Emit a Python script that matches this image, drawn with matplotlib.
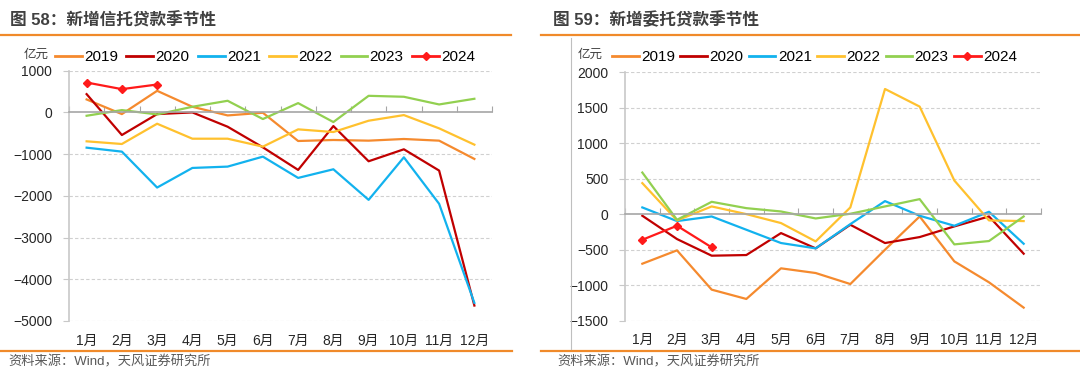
import matplotlib
matplotlib.use('Agg')
from matplotlib import pyplot as plt
from matplotlib.lines import Line2D
import numpy as np

plt.rcParams['font.family'] = ['Liberation Sans', 'Noto Sans CJK SC', 'DejaVu Sans']
plt.rcParams['axes.unicode_minus'] = True

months = ['1月', '2月', '3月', '4月', '5月', '6月', '7月', '8月', '9月', '10月', '11月', '12月']
years = ['2019', '2020', '2021', '2022', '2023', '2024']
colors = ['#F58A2E', '#C00000', '#12B2EE', '#FFC12E', '#92D050', '#FF1A1A']

# 新增信托贷款 (亿元)
trust_2019 = [311, -40, 518, 135, -72, -8, -685, -661, -677, -637, -677, -1115]
trust_2020 = [438, -542, -40, 0, -343, -837, -1378, -327, -1171, -884, -1394, -4630]
trust_2021 = [-845, -940, -1801, -1331, -1299, -1060, -1570, -1363, -2096, -1076, -2191, -4566]
trust_2022 = [-693, -757, -271, -630, -630, -821, -406, -470, -199, -64, -382, -773]
trust_2023 = [-80, 56, -48, 135, 279, -159, 223, -231, 398, 375, 191, 327]
trust_2024 = [717, 558, 669]

# 新增委托贷款 (亿元)
entr_2019 = [-698, -510, -1063, -1194, -763, -829, -984, -501, -33, -665, -960, -1316]
entr_2020 = [-23, -351, -585, -576, -267, -482, -150, -407, -323, -173, -33, -557]
entr_2021 = [94, -98, -33, -220, -407, -482, -141, 183, -23, -164, 33, -417]
entr_2022 = [436, -89, 108, 0, -126, -384, 94, 1761, 1513, 473, -89, -98]
entr_2023 = [585, -80, 173, 84, 37, -61, 5, 108, 211, -426, -379, -33]
entr_2024 = [-361, -164, -468]

W, H = 1080, 389
fig = plt.figure(figsize=(W / 100, H / 100), dpi=100)


def px(x0, y0, x1, y1):
    # pixel box (top-left origin) -> figure fraction
    return [x0 / W, 1 - y1 / H, (x1 - x0) / W, (y1 - y0) / H]


def panel(box, series, ylim, ystep, title, tx, legx, unitx, srcx, colsp):
    ax = fig.add_axes(px(*box))
    x = np.arange(12)
    for i, s in enumerate(series):
        xs = x[:len(s)]
        if years[i] == '2024':
            ax.plot(xs, s, color=colors[i], lw=1.6, marker='D', ms=4, zorder=5)
        else:
            ax.plot(xs, s, color=colors[i], lw=1.6)
    ax.set_xlim(-0.5, 11.5)
    ax.set_ylim(*ylim)
    yt = np.arange(ylim[0], ylim[1] + 1, ystep)
    ax.set_yticks(yt)
    ax.set_yticklabels([f'{v:.0f}'.replace('-', '\u2212') for v in yt])
    for v in yt:
        if v != 0:
            ax.axhline(v, color='#D0D0D0', lw=0.8, ls=(0, (3, 2)), zorder=0)
    for sp in ['top', 'right']:
        ax.spines[sp].set_visible(False)
    ax.spines['left'].set_color('#C8C8C8')
    ax.spines['left'].set_linewidth(1.2)
    ax.spines['bottom'].set_position(('data', 0))
    ax.spines['bottom'].set_color('#A6A6A6')
    ax.spines['bottom'].set_linewidth(1.2)
    ax.set_xticks(np.arange(-0.5, 12, 1))
    ax.tick_params(axis='x', direction='in', length=4, color='#A6A6A6', labelbottom=False)
    ax.tick_params(axis='y', length=4, color='#C8C8C8', pad=8, labelsize=10, labelcolor='#262626')
    sec = ax.secondary_xaxis('bottom')
    sec.set_xticks(x)
    sec.set_xticklabels(months)
    sec.tick_params(length=0, pad=9, labelsize=10, labelcolor='#262626')
    sec.spines['bottom'].set_visible(False)

    handles = []
    for i, y in enumerate(years):
        if y == '2024':
            handles.append(Line2D([], [], color=colors[i], lw=2, marker='D', ms=4))
        else:
            handles.append(Line2D([], [], color=colors[i], lw=2))
    fig.legend(handles, years, loc='center left', bbox_to_anchor=(legx / W, 1 - 57 / H),
               ncol=6, frameon=False, fontsize=11, handlelength=1.75, handletextpad=0.15,
               columnspacing=colsp, borderpad=0, borderaxespad=0)
    fig.text(unitx / W, 1 - 55 / H, '亿元', fontsize=9, color='#404040', va='center')
    fig.text(tx / W, 1 - 20 / H, title, fontsize=12, fontweight='bold', color='#404040', va='center')
    fig.text(srcx / W, 1 - 362 / H, '资料来源：Wind，天风证券研究所', fontsize=9.5, color='#595959', va='center')
    return ax


panel((69, 70.7, 492, 321),
      [trust_2019, trust_2020, trust_2021, trust_2022, trust_2023, trust_2024],
      (-5000, 1000), 1000, '图 58：新增信托贷款季节性', 10, 55, 24, 8, 0.55)
panel((625, 72, 1041, 320.7),
      [entr_2019, entr_2020, entr_2021, entr_2022, entr_2023, entr_2024],
      (-1500, 2000), 500, '图 59：新增委托贷款季节性', 553, 612, 578, 557, 0.35)

# orange header/footer rules and the grey divider
orange = '#F08A2A'
fig.add_artist(Line2D([0, 511 / W], [1 - 35 / H] * 2, color=orange, lw=1.6))
fig.add_artist(Line2D([541 / W, 1], [1 - 35 / H] * 2, color=orange, lw=1.6))
fig.add_artist(Line2D([0, 512 / W], [1 - 351 / H] * 2, color=orange, lw=1.6))
fig.add_artist(Line2D([541 / W, 1], [1 - 351 / H] * 2, color=orange, lw=1.6))
fig.add_artist(Line2D([571 / W] * 2, [1 - 38 / H, 1 - 349 / H], color='#BFBFBF', lw=0.8))

fig.savefig('out.png', dpi=100)
